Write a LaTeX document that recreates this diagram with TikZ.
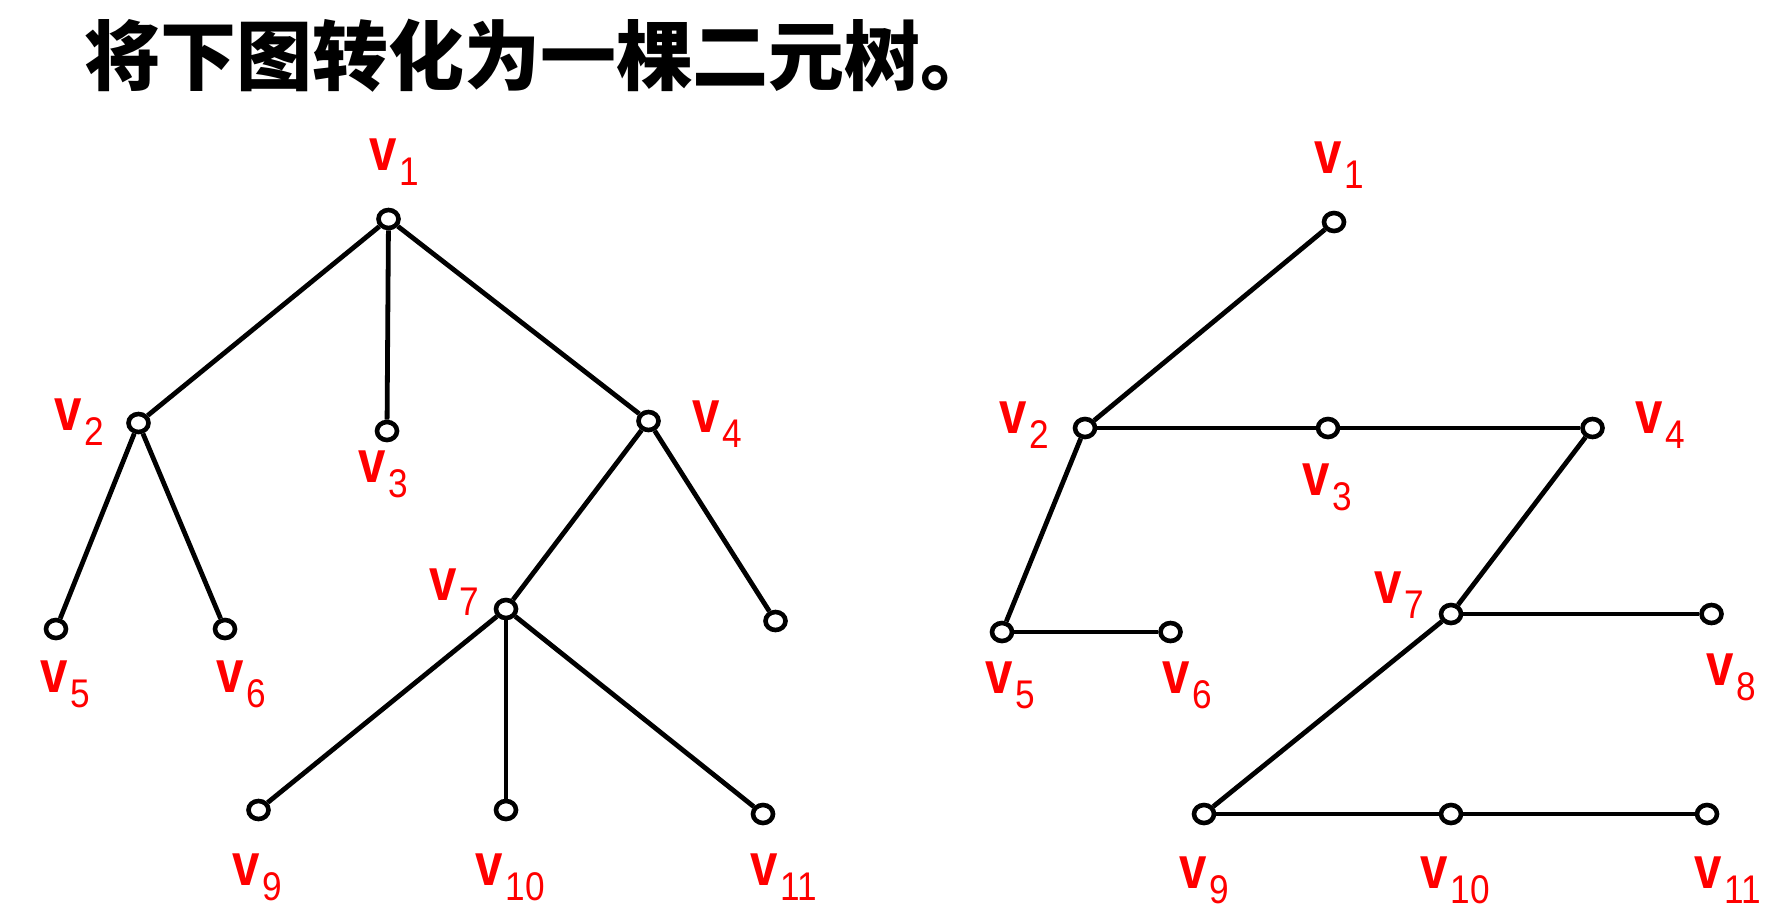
\documentclass[tikz,border=0pt]{standalone}
\usepackage{fontspec}
\usetikzlibrary{shapes.geometric}
\newfontfamily\cjk{Noto Sans CJK SC}
\newfontfamily\vfont[FakeStretch=0.82]{Liberation Sans}
\newfontfamily\subfont[FakeStretch=0.88]{Liberation Sans}
\newcommand\vlab[1]{{\vfont\bfseries\fontsize{30pt}{30pt}\selectfont v}\kern1.5pt\raisebox{-7.5pt}{\subfont\fontsize{20pt}{20pt}\selectfont #1}}
\definecolor{labred}{RGB}{255,0,0}
\tikzset{
  vtx/.style={ellipse,draw=black,line width=2.3pt,fill=white,minimum width=10pt,minimum height=9pt,inner sep=0pt},
  lab/.style={anchor=base west,inner sep=0pt,text=labred},
  edge/.style={line width=2.4pt,black}
}
\begin{document}
\begin{tikzpicture}[x=0.5pt,y=-0.5pt]
\useasboundingbox (0,0) rectangle (1786,921);
\node[anchor=west,inner sep=0pt,font=\cjk\bfseries\fontsize{38pt}{38pt}\selectfont] (title) at (84,56) {将下图转化为一棵二元树。};
% left tree
\node[vtx] (a1) at (388.5,219) {};
\node[vtx] (a2) at (138.5,423) {};
\node[vtx] (a3) at (387,431) {};
\node[vtx] (a4) at (648.5,421) {};
\node[vtx] (a5) at (56,629) {};
\node[vtx] (a6) at (225,629) {};
\node[vtx] (a7) at (506,609) {};
\node[vtx] (a8) at (775.5,621) {};
\node[vtx] (a9) at (258.5,810) {};
\node[vtx] (a10) at (506,810) {};
\node[vtx] (a11) at (763,814) {};
\draw[edge] (a1) -- (a2);
\draw[edge] (a1) -- (a3);
\draw[edge] (a1) -- (a4);
\draw[edge] (a2) -- (a5);
\draw[edge] (a2) -- (a6);
\draw[edge] (a4) -- (a7);
\draw[edge] (a4) -- (a8);
\draw[edge] (a7) -- (a9);
\draw[edge] (a7) -- (a10);
\draw[edge] (a7) -- (a11);
\node[lab] (la1) at (369,170) {\vlab{1}};
\node[lab] (la2) at (54,430) {\vlab{2}};
\node[lab] (la3) at (358,482) {\vlab{3}};
\node[lab] (la4) at (692,432) {\vlab{4}};
\node[lab] (la5) at (40,692) {\vlab{5}};
\node[lab] (la6) at (216,692) {\vlab{6}};
\node[lab] (la7) at (429,600) {\vlab{7}};
\node[lab] (la9) at (232,885) {\vlab{9}};
\node[lab] (la10) at (475,885) {\vlab{10}};
\node[lab] (la11) at (750,885) {\vlab{11}};
% right tree
\node[vtx] (b1) at (1334,222) {};
\node[vtx] (b2) at (1085,428) {};
\node[vtx] (b3) at (1328,428) {};
\node[vtx] (b4) at (1592.5,428) {};
\node[vtx] (b5) at (1002,632) {};
\node[vtx] (b6) at (1170.5,632) {};
\node[vtx] (b7) at (1451,614) {};
\node[vtx] (b8) at (1711.5,614) {};
\node[vtx] (b9) at (1204,814) {};
\node[vtx] (b10) at (1451,814) {};
\node[vtx] (b11) at (1707,814) {};
\draw[edge] (b1) -- (b2);
\draw[edge] (b2) -- (b3);
\draw[edge] (b3) -- (b4);
\draw[edge] (b2) -- (b5);
\draw[edge] (b5) -- (b6);
\draw[edge] (b4) -- (b7);
\draw[edge] (b7) -- (b8);
\draw[edge] (b7) -- (b9);
\draw[edge] (b9) -- (b10);
\draw[edge] (b10) -- (b11);
\node[lab] (lb1) at (1314,173) {\vlab{1}};
\node[lab] (lb2) at (999,433) {\vlab{2}};
\node[lab] (lb3) at (1302,495) {\vlab{3}};
\node[lab] (lb4) at (1635,433) {\vlab{4}};
\node[lab] (lb5) at (985,693) {\vlab{5}};
\node[lab] (lb6) at (1162,693) {\vlab{6}};
\node[lab] (lb7) at (1374,603) {\vlab{7}};
\node[lab] (lb8) at (1706,685) {\vlab{8}};
\node[lab] (lb9) at (1179,888) {\vlab{9}};
\node[lab] (lb10) at (1420,888) {\vlab{10}};
\node[lab] (lb11) at (1694,888) {\vlab{11}};
\end{tikzpicture}
\end{document}
